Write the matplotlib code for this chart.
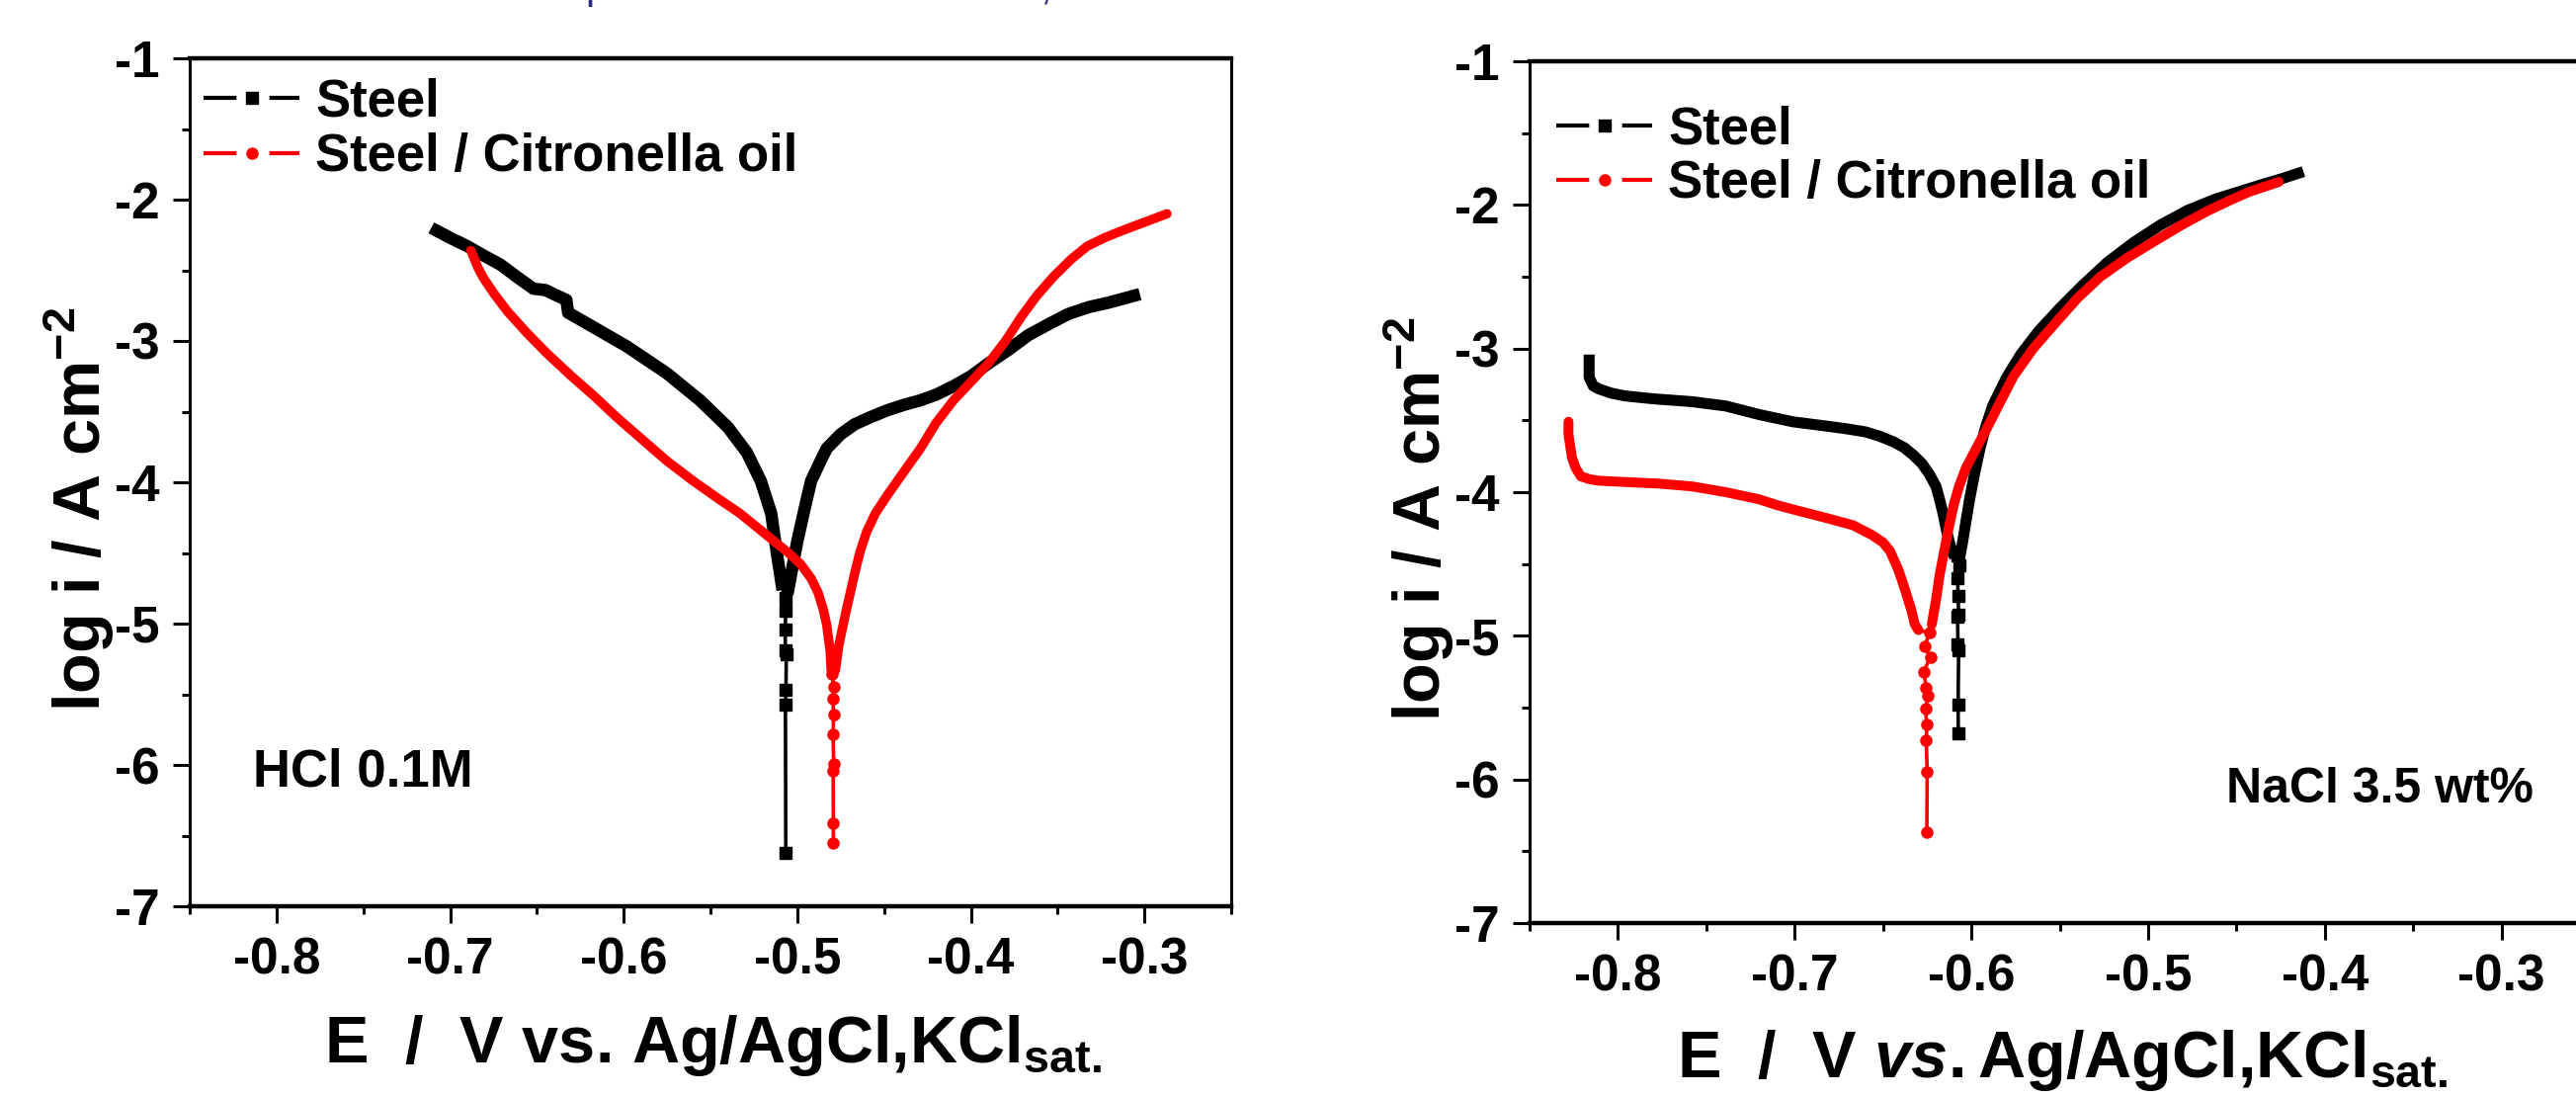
import matplotlib
matplotlib.use("Agg")
import matplotlib.pyplot as plt
from matplotlib.lines import Line2D
from matplotlib.ticker import MultipleLocator, FormatStrFormatter

plt.rcParams['font.family'] = ['Liberation Sans', 'DejaVu Sans']
plt.rcParams['font.weight'] = 'bold'
plt.rcParams['axes.labelweight'] = 'bold'
plt.rcParams['axes.unicode_minus'] = False
plt.rcParams['mathtext.fontset'] = 'custom'
plt.rcParams['mathtext.rm'] = 'Liberation Sans:bold'
plt.rcParams['mathtext.bf'] = 'Liberation Sans:bold'
plt.rcParams['mathtext.it'] = 'Liberation Sans:italic:bold'
plt.rcParams['mathtext.default'] = 'bf'

# ---------------- data ----------------
SERIES_LABELS = ["Steel", "Steel / Citronella oil"]
PANEL_TEXTS = ["HCl 0.1M", "NaCl 3.5 wt%"]
TOP_FRAGMENTS = ["p", ","]

# HCl 0.1 M, Steel
hcl_steel_cath_E = [-0.7077, -0.700, -0.690, -0.680, -0.671, -0.660, -0.652, -0.645, -0.640,
                    -0.633, -0.632, -0.622, -0.6135, -0.598, -0.575, -0.556, -0.540, -0.529,
                    -0.521, -0.515, -0.512, -0.509]
hcl_steel_cath_L = [-2.22, -2.27, -2.33, -2.40, -2.46, -2.56, -2.63, -2.64, -2.67,
                    -2.71, -2.80, -2.87, -2.93, -3.04, -3.23, -3.42, -3.61, -3.79,
                    -3.99, -4.22, -4.48, -4.72]
hcl_steel_tip_E = [-0.5070, -0.5065, -0.5070, -0.5068, -0.5063, -0.5065, -0.5068, -0.5066]
hcl_steel_tip_L = [-4.82, -4.91, -5.04, -5.19, -5.22, -5.47, -5.57, -6.62]
hcl_steel_anod_E = [-0.505, -0.502, -0.500, -0.496, -0.492, -0.487, -0.483, -0.475, -0.467,
                    -0.458, -0.448, -0.438, -0.429, -0.420, -0.410, -0.400, -0.390, -0.378,
                    -0.367, -0.355, -0.344, -0.332, -0.321, -0.306]
hcl_steel_anod_L = [-4.75, -4.55, -4.42, -4.20, -3.99, -3.86, -3.76, -3.66, -3.59,
                    -3.54, -3.49, -3.45, -3.42, -3.38, -3.32, -3.25, -3.16, -3.06,
                    -2.96, -2.88, -2.81, -2.76, -2.73, -2.68]

# HCl 0.1 M, Steel / Citronella oil
hcl_cit_cath_E = [-0.688, -0.684, -0.681, -0.675, -0.667, -0.656, -0.644, -0.630, -0.617,
                  -0.604, -0.590, -0.575, -0.560, -0.545, -0.533, -0.522, -0.513, -0.505,
                  -0.498, -0.492, -0.488, -0.485, -0.483, -0.481, -0.4805]
hcl_cit_cath_L = [-2.36, -2.48, -2.55, -2.66, -2.79, -2.94, -3.09, -3.25, -3.39,
                  -3.54, -3.69, -3.85, -3.99, -4.12, -4.22, -4.33, -4.42, -4.50,
                  -4.58, -4.68, -4.78, -4.90, -5.01, -5.20, -5.33]
hcl_cit_tip_E = [-0.4800, -0.4788, -0.4796, -0.4790, -0.4794, -0.4790, -0.4793, -0.4792, -0.4792]
hcl_cit_tip_L = [-5.36, -5.45, -5.53, -5.64, -5.78, -5.99, -6.04, -6.41, -6.55]
hcl_cit_anod_E = [-0.478, -0.476, -0.472, -0.467, -0.464, -0.460, -0.455, -0.448, -0.440,
                  -0.429, -0.420, -0.410, -0.400, -0.390, -0.380, -0.371, -0.362, -0.352,
                  -0.342, -0.333, -0.323, -0.313, -0.300, -0.287]
hcl_cit_anod_L = [-5.33, -5.15, -4.92, -4.65, -4.50, -4.35, -4.22, -4.09, -3.95,
                  -3.76, -3.58, -3.42, -3.29, -3.16, -3.00, -2.83, -2.68, -2.54,
                  -2.42, -2.33, -2.27, -2.22, -2.16, -2.10]

# NaCl 3.5 wt%, Steel
nacl_steel_cath_E = [-0.8163, -0.8163, -0.814, -0.811, -0.804, -0.796, -0.780, -0.758, -0.739,
                     -0.720, -0.701, -0.682, -0.670, -0.660, -0.652, -0.644, -0.638, -0.633,
                     -0.628, -0.624, -0.620, -0.618, -0.616, -0.614, -0.612, -0.6105]
nacl_steel_cath_L = [-3.08, -3.20, -3.26, -3.28, -3.31, -3.33, -3.35, -3.37, -3.40,
                     -3.46, -3.51, -3.54, -3.56, -3.58, -3.61, -3.65, -3.69, -3.74,
                     -3.80, -3.87, -3.96, -4.05, -4.15, -4.27, -4.37, -4.42]
nacl_steel_tip_E = [-0.6080, -0.6070, -0.6078, -0.6075, -0.6072, -0.6078, -0.6076, -0.6072,
                    -0.6075, -0.6074]
nacl_steel_tip_L = [-4.44, -4.51, -4.60, -4.72, -4.85, -4.87, -5.06, -5.10, -5.48, -5.68]
nacl_steel_anod_E = [-0.6065, -0.605, -0.603, -0.601, -0.598, -0.595, -0.592, -0.588, -0.580,
                     -0.572, -0.562, -0.550, -0.537, -0.523, -0.508, -0.493, -0.478, -0.462,
                     -0.449, -0.436, -0.425, -0.415]
nacl_steel_anod_L = [-4.45, -4.35, -4.20, -4.05, -3.86, -3.69, -3.55, -3.40, -3.20,
                     -3.04, -2.88, -2.72, -2.56, -2.40, -2.26, -2.14, -2.04, -1.96,
                     -1.91, -1.86, -1.82, -1.78]

# NaCl 3.5 wt%, Steel / Citronella oil
nacl_cit_cath_E = [-0.828, -0.828, -0.827, -0.826, -0.824, -0.821, -0.816, -0.811, -0.795,
                   -0.777, -0.758, -0.739, -0.720, -0.710, -0.701, -0.682, -0.667, -0.656,
                   -0.650, -0.646, -0.641, -0.637, -0.634, -0.632, -0.630]
nacl_cit_cath_L = [-3.51, -3.60, -3.68, -3.76, -3.83, -3.89, -3.91, -3.92, -3.93,
                   -3.94, -3.96, -4.00, -4.05, -4.09, -4.12, -4.18, -4.23, -4.30,
                   -4.35, -4.41, -4.55, -4.70, -4.82, -4.92, -4.96]
nacl_cit_tip_E = [-0.6235, -0.6265, -0.6232, -0.6270, -0.6255, -0.6245, -0.6260, -0.6252,
                  -0.6255, -0.6250, -0.6252]
nacl_cit_tip_L = [-4.98, -5.07, -5.15, -5.25, -5.36, -5.42, -5.51, -5.62, -5.73, -5.95, -6.37]
nacl_cit_anod_E = [-0.6224, -0.620, -0.618, -0.616, -0.613, -0.610, -0.607, -0.603, -0.597,
                   -0.591, -0.584, -0.576, -0.565, -0.553, -0.540, -0.527, -0.512, -0.496,
                   -0.481, -0.466, -0.454, -0.443, -0.426]
nacl_cit_anod_L = [-4.92, -4.75, -4.58, -4.45, -4.26, -4.09, -3.96, -3.83, -3.69,
                   -3.55, -3.38, -3.19, -3.00, -2.83, -2.65, -2.50, -2.37, -2.25,
                   -2.14, -2.04, -1.97, -1.91, -1.84]

# ---------------- figure ----------------
W, H = 2607, 1110
fig = plt.figure(figsize=(W / 100, H / 100), dpi=100)
axL = fig.add_axes([192 / W, 1 - 917 / H, (1246 - 192) / W, (917 - 59) / H])
axR = fig.add_axes([1548 / W, 1 - 934 / H, (2621 - 1548) / W, (934 - 62) / H])

BLACK = "#000000"
RED = "#ff0000"
TICK_FS = 37


def style(ax):
    ax.set_xlim(-0.85, -0.25)
    ax.set_ylim(-7, -1)
    ax.xaxis.set_major_locator(MultipleLocator(0.1))
    ax.xaxis.set_minor_locator(MultipleLocator(0.05))
    ax.yaxis.set_major_locator(MultipleLocator(1))
    ax.yaxis.set_minor_locator(MultipleLocator(0.5))
    ax.xaxis.set_major_formatter(FormatStrFormatter('%.1f'))
    ax.yaxis.set_major_formatter(FormatStrFormatter('%d'))
    for s in ('top', 'bottom'):
        ax.spines[s].set_linewidth(3.2)
    for s in ('left', 'right'):
        ax.spines[s].set_linewidth(2.2)
    ax.tick_params(which='major', direction='out', length=12, width=2.2,
                   labelsize=TICK_FS, pad=10, top=False, right=False)
    ax.tick_params(which='minor', direction='out', length=6, width=2.2,
                   top=False, right=False)


def draw(ax, cE, cL, tE, tL, aE, aL, color, marker, lw, ms, cap):
    ax.plot(cE, cL, color=color, lw=lw, solid_capstyle=cap, solid_joinstyle='round', zorder=3)
    ax.plot(aE, aL, color=color, lw=lw, solid_capstyle=cap, solid_joinstyle='round', zorder=3)
    ax.plot([cE[-1]] + tE, [cL[-1]] + tL, color=color, lw=2.6, zorder=3)
    ax.plot(tE, tL, ls='none', marker=marker, ms=ms, color=color, mec=color, zorder=3)


for ax in (axL, axR):
    style(ax)

draw(axL, hcl_steel_cath_E, hcl_steel_cath_L, hcl_steel_tip_E, hcl_steel_tip_L,
     hcl_steel_anod_E, hcl_steel_anod_L, BLACK, 's', 9.0, 8.5, 'projecting')
draw(axL, hcl_cit_cath_E, hcl_cit_cath_L, hcl_cit_tip_E, hcl_cit_tip_L,
     hcl_cit_anod_E, hcl_cit_anod_L, RED, 'o', 6.8, 8, 'round')
draw(axR, nacl_steel_cath_E, nacl_steel_cath_L, nacl_steel_tip_E, nacl_steel_tip_L,
     nacl_steel_anod_E, nacl_steel_anod_L, BLACK, 's', 8.0, 8.5, 'projecting')
draw(axR, nacl_cit_cath_E, nacl_cit_cath_L, nacl_cit_tip_E, nacl_cit_tip_L,
     nacl_cit_anod_E, nacl_cit_anod_L, RED, 'o', 7.2, 8, 'round')

# legends
def legend(ax, x, y):
    h1 = Line2D([], [], color=BLACK, lw=3, ls=(0, (8, 8)), marker='s', ms=8)
    h2 = Line2D([], [], color=RED, lw=3, ls=(0, (8, 8)), marker='o', ms=8)
    ax.legend([h1, h2], SERIES_LABELS, loc='upper left', bbox_to_anchor=(x, y),
              frameon=False, fontsize=38, handlelength=1.84, handletextpad=0.3,
              labelspacing=0.1, borderpad=0, borderaxespad=0, numpoints=1)

legend(axL, 0.0133, 0.977)
legend(axR, 0.0252, 0.9495)

# panel annotations
axL.text(0.061, 0.142, PANEL_TEXTS[0], transform=axL.transAxes, fontsize=38,
         ha='left', va='baseline')
axR.text(0.657, 0.140, PANEL_TEXTS[1], transform=axR.transAxes, fontsize=36,
         ha='left', va='baseline')

# axis labels
YLAB = "log i / A cm$^{-2}$"
axL.set_ylabel(YLAB, fontsize=48, fontweight='bold')
axR.set_ylabel(YLAB, fontsize=48, fontweight='bold')
axL.yaxis.set_label_coords(-0.106, 0.4685)
axR.yaxis.set_label_coords(-0.104, 0.469)
for ax in (axL, axR):
    ax.yaxis.label.set_va('center')

axL.set_xlabel("E  /  V vs. Ag/AgCl,KCl$_{sat.}$", fontsize=48, fontweight='bold')
axR.set_xlabel("E  /  V $\\mathit{vs.}$Ag/AgCl,KCl$_{sat.}$", fontsize=48, fontweight='bold')
axL.xaxis.set_label_coords(0.502, -0.184)
axR.xaxis.set_label_coords(0.502, -0.179)
for ax in (axL, axR):
    ax.xaxis.label.set_va('baseline')

# clipped fragments of a caption above the figure
fig.text(592 / W, 1 + 2 / H, TOP_FRAGMENTS[0], color="#2b2a80", fontsize=30,
         ha='left', va='baseline', weight='normal')
fig.text(1052 / W, 1 + 2 / H, TOP_FRAGMENTS[1], color="#2b2a80", fontsize=30,
         ha='left', va='baseline', weight='normal')

fig.savefig("out.png", dpi=100)
